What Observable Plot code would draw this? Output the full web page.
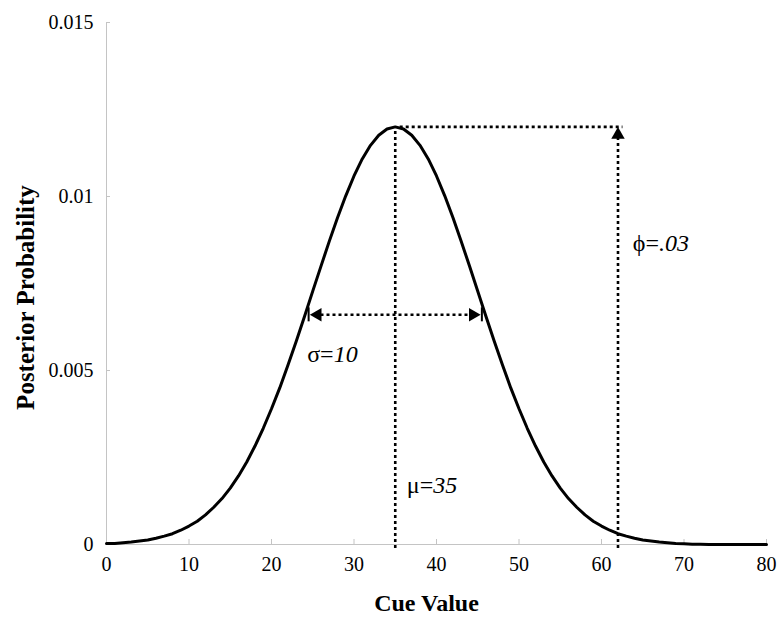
<!DOCTYPE html>
<html>
<head>
<meta charset="utf-8">
<script src="https://cdn.jsdelivr.net/npm/d3@7"></script>
<script src="https://cdn.jsdelivr.net/npm/@observablehq/plot@0.6"></script>
<style>
  html, body { margin: 0; padding: 0; background: #ffffff; }
  #chart svg { display: block; }
  #chart svg, #chart svg text { font-family: 'Liberation Serif', 'Times New Roman', serif !important; }
</style>
</head>
<body>
<div id="chart"></div>
<script>
// ---- Data ----
const cueValues = d3.range(0, 81); // Cue Value 0..80
const posterior = [
  0.00003, 0.00003, 0.00005, 0.00007, 0.00010, 0.00013, 0.00018, 0.00024, 0.00031, 0.00041,
  0.00053, 0.00067, 0.00085, 0.00107, 0.00132, 0.00162, 0.00197, 0.00237, 0.00283, 0.00334,
  0.00390, 0.00450, 0.00516, 0.00584, 0.00655, 0.00728, 0.00800, 0.00871, 0.00939, 0.01002,
  0.01059, 0.01108, 0.01147, 0.01176, 0.01194, 0.01200, 0.01194, 0.01176, 0.01147, 0.01108,
  0.01059, 0.01002, 0.00939, 0.00871, 0.00800, 0.00728, 0.00655, 0.00584, 0.00516, 0.00450,
  0.00390, 0.00334, 0.00283, 0.00237, 0.00197, 0.00162, 0.00132, 0.00107, 0.00085, 0.00067,
  0.00053, 0.00041, 0.00031, 0.00024, 0.00018, 0.00013, 0.00010, 0.00007, 0.00005, 0.00003,
  0.00002, 0.00001, 0.00001, 0.00000, 0.00000, 0.00000, 0.00000, 0.00000, 0.00000, 0.00000,
  0.00000
];
const xTicks = [0, 10, 20, 30, 40, 50, 60, 70, 80];
const xTickLabels = ["0", "10", "20", "30", "40", "50", "60", "70", "80"];
const yTicks = [0, 0.005, 0.01, 0.015];
const yTickLabels = ["0", "0.005", "0.01", "0.015"];

// Annotated parameters
const mu = 35;
const peak = 0.012;
const sigmaLeft = 24.5;
const sigmaRight = 45.5;
const sigmaLevel = 0.0066;
const phiCue = 62;
const xLabel = "Cue Value";
const yLabel = "Posterior Probability";

const curve = cueValues.map((x, i) => ({x, y: posterior[i]}));

// ---- Layout ----
const W = 783, H = 620;
const mL = 106, mR = 17, mT = 22, mB = 76;
const innerW = W - mL - mR, innerH = H - mT - mB;
const serif = "'Liberation Serif', 'Times New Roman', serif";
const axisGray = "#c4c4c4";
const dotted = {stroke: "black", strokeWidth: 2.6, strokeDasharray: "3 3"};
const pxY = 0.015 / (544 - 22.7); // value per pixel (for small offsets)
const txt = {fontFamily: serif, fill: "black"};

const chart = Plot.plot({
  width: W,
  height: H,
  marginLeft: mL,
  marginRight: mR,
  marginTop: mT,
  marginBottom: mB,
  style: {fontFamily: serif, fontSize: "20px", background: "#ffffff", color: "#000"},
  x: {domain: [0, 80]},
  y: {domain: [0, 0.015]},
  marks: [
    // axis lines
    Plot.ruleY([0], {x1: 0, x2: 80, stroke: axisGray, strokeWidth: 1}),
    Plot.ruleX([0], {y1: 0, y2: 0.015, stroke: axisGray, strokeWidth: 1}),
    // inward tick marks
    Plot.tickX(xTicks, {x: d => d, insetTop: innerH - 5, stroke: axisGray}),
    Plot.tickY(yTicks, {y: d => d, insetRight: innerW - 4, stroke: axisGray}),
    // tick labels
    Plot.axisX({ticks: xTicks, tickSize: 0, tickPadding: 12, tickFormat: (d, i) => xTickLabels[i], label: null, fontSize: 20, fontFamily: serif}),
    Plot.axisY({ticks: yTicks, tickSize: 0, tickPadding: 13, tickFormat: (d, i) => yTickLabels[i], label: null, fontSize: 20, fontFamily: serif}),
    // axis titles
    Plot.text([xLabel], {frameAnchor: "bottom", textAnchor: "middle", dx: -10, dy: 66, fontWeight: "bold", fontSize: 24, ...txt}),
    Plot.text([yLabel], {frameAnchor: "left", textAnchor: "middle", dx: -81, dy: 14, rotate: -90, fontWeight: "bold", fontSize: 25, ...txt}),
    // mu guide
    Plot.ruleX([mu], {y1: -4 * pxY, y2: peak, ...dotted}),
    // peak horizontal guide
    Plot.ruleY([peak], {x1: mu + 0.6, x2: phiCue + 0.6, ...dotted}),
    // phi arrow
    Plot.ruleX([phiCue], {y1: -4 * pxY, y2: peak - 8 * pxY, ...dotted}),
    Plot.dot([phiCue], {x: d => d, y: peak, dy: 8, symbol: "triangle", r: 5, fill: "black", stroke: null}),
    // sigma arrow
    Plot.ruleY([sigmaLevel], {x1: sigmaLeft + 1.5, x2: sigmaRight - 1.5, ...dotted}),
    Plot.ruleX([sigmaLeft, sigmaRight], {y1: sigmaLevel - 7 * pxY, y2: sigmaLevel + 7 * pxY, stroke: "black", strokeWidth: 2}),
    Plot.dot([sigmaLeft], {x: d => d, y: sigmaLevel, dx: 9, rotate: -90, symbol: "triangle", r: 5, fill: "black", stroke: null}),
    Plot.dot([sigmaRight], {x: d => d, y: sigmaLevel, dx: -9, rotate: 90, symbol: "triangle", r: 5, fill: "black", stroke: null}),
    // the curve
    Plot.line(curve, {x: "x", y: "y", stroke: "black", strokeWidth: 3, strokeLinejoin: "round"}),
    // labels
    Plot.text(["σ="], {x: sigmaLeft, y: sigmaLevel, dx: 25, dy: 39, textAnchor: "end", fontSize: 24, ...txt}),
    Plot.text(["10"], {x: sigmaLeft, y: sigmaLevel, dx: 25, dy: 39, textAnchor: "start", fontSize: 24, fontStyle: "italic", ...txt}),
    Plot.text(["μ="], {x: mu, y: 0, dx: 38, dy: -59, textAnchor: "end", fontSize: 24, ...txt}),
    Plot.text(["35"], {x: mu, y: 0, dx: 38, dy: -59, textAnchor: "start", fontSize: 24, fontStyle: "italic", ...txt}),
    Plot.text(["ϕ="], {x: phiCue, y: peak, dx: 41, dy: 116, textAnchor: "end", fontSize: 24, ...txt}),
    Plot.text([".03"], {x: phiCue, y: peak, dx: 41, dy: 116, textAnchor: "start", fontSize: 24, fontStyle: "italic", ...txt})
  ]
});

document.getElementById("chart").appendChild(chart);
</script>
</body>
</html>
